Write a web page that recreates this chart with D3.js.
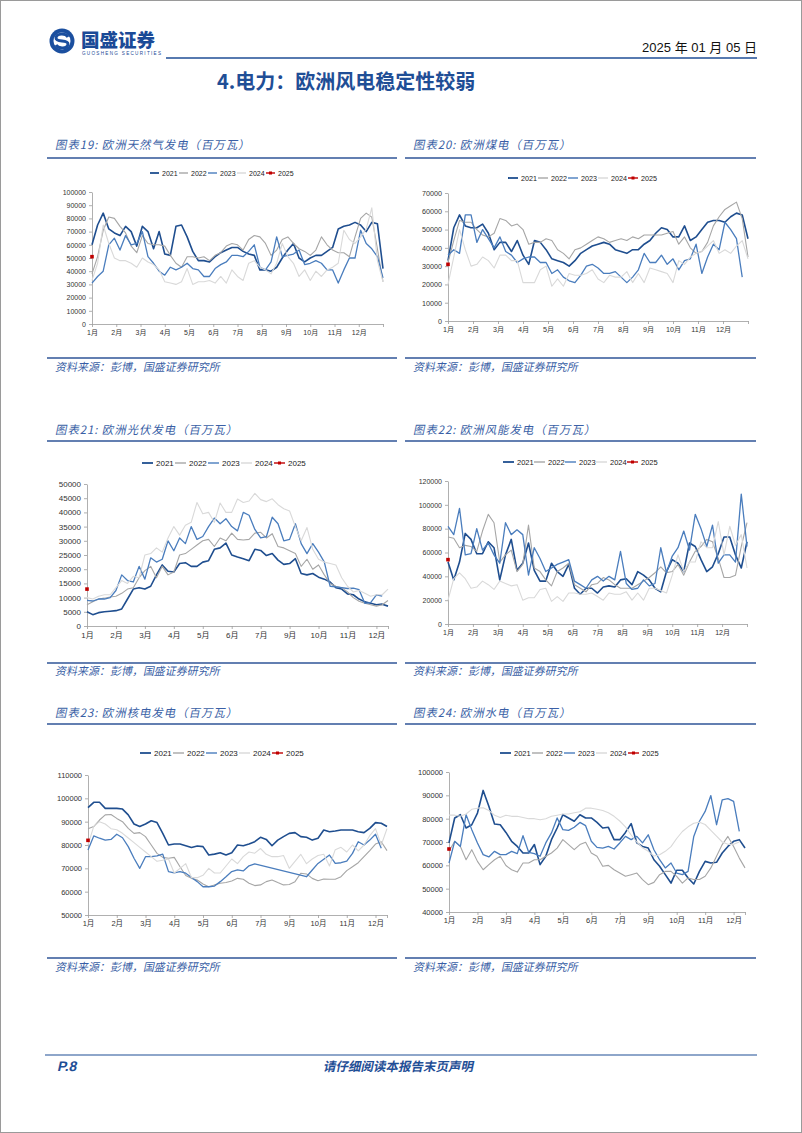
<!DOCTYPE html>
<html>
<head>
<meta charset="utf-8">
<script src="https://cdn.jsdelivr.net/npm/d3@7"></script>
<style>
body { margin: 0; background: #fff; }
svg { display: block; }
</style>
</head>
<body>
<div id="page"></div>
<script>
// all series in thousands (axis labels multiply back by 1000), weekly points w0..w52
var years = ['2021', '2022', '2023', '2024', '2025'];
var yearColor = ['#1f4e8f', '#a6a6a6', '#4a7dbd', '#d9d9d9', '#c00000'];
var yearWidth = [1.6, 1.1, 1.3, 1.1, 1];

var months12 = ['1月', '2月', '3月', '4月', '5月', '6月', '7月', '8月', '9月', '10月', '11月', '12月'];
var months11 = ['1月', '2月', '3月', '4月', '5月', '6月', '7月', '9月', '10月', '11月', '12月'];

// 图表19 天然气
var gas2021 = [60,75,84,72,69,67,74,70,59,74, 70,57,70,53,52,74,75,66,55,48, 48,47,51,54,56,58,58,55,53,52, 41,41,40,43,50,56,61,50,47,50, 52,52,55,58,72,74,75,77,75,70, 77,76,42];
var gas2022 = [38,51,71,81,80,74,69,59,54,67, 61,60,60,59,52,46,43,51,51,50, 51,48,52,54,59,61,60,56,64,67, 66,61,52,56,64,66,61,57,55,52, 56,66,60,56,54,54,51,66,80,84, 81,57,32];
var gas2023 = [31,36,40,60,65,56,67,60,61,70, 51,46,40,37,43,41,43,46,42,41, 36,36,42,45,47,52,52,51,55,60, 43,41,47,66,51,52,53,56,45,46, 48,46,41,41,31,41,50,50,71,61, 57,51,35];
var gas2024 = [33,46,75,61,50,48,48,46,43,50, 47,45,41,32,31,30,32,42,30,32, 32,33,31,36,31,41,36,33,46,48, 43,41,38,46,61,51,46,36,41,33, 40,36,41,43,46,71,64,61,66,72, 88,48,32];
var gas2025 = [51];

// 图表20 煤电
var coal2021 = [33,51,58,52,51,51,53,48,39,43, 43,38,44,36,31,44,43,39,34,33, 32,30,33,37,39,41,42,43,42,39, 38,37,39,39,42,44,48,51,50,46, 46,52,44,46,50,54,55,55,54,57, 59,58,45];
var coal2022 = [32,44,55,54,54,50,47,46,48,56, 55,52,53,50,42,43,43,45,44,39, 37,34,39,40,42,44,46,45,43,44, 45,44,46,45,47,47,47,47,48,49, 42,46,40,37,38,43,52,57,61,63, 65,56,35];
var coal2023 = [36,39,37,58,58,43,50,45,40,46, 38,36,32,34,35,35,32,32,26,28, 24,22,21,25,30,31,29,26,26,27, 24,21,24,28,37,32,32,36,31,34, 28,33,34,42,26,35,42,39,54,50, 45,24];
var coal2024 = [20,35,50,39,30,31,35,33,29,36, 36,33,33,21,21,21,28,30,19,23, 19,26,25,25,26,28,23,21,25,24, 24,27,21,26,21,29,28,27,26,21, 33,31,35,37,38,41,44,37,39,37, 41,44,34];
var coal2025 = [31];

// 图表21 光伏
var solar2021 = [5,4,4.7,5,5.2,5.4,6,9.5,13,13.5, 13,14,18,21.5,19.3,19,22,22.3,21,21, 22.5,23,27,27.5,29.2,25,24.3,23.7,23,27, 26.6,24.8,25.5,23.2,21.7,22,23.7,18.5,18,18.5, 17.2,16.5,15.5,13.5,13,11.3,11,9.5,8.5,8, 7.5,7.7,7];
var solar2022 = [7.5,8.5,9.5,9.8,10.2,10.5,11.5,13,13.5,17, 19.5,21,17,21,18,19,25,25.5,27,28.5, 30,30.5,28,31,30,32.7,30.5,30.3,30.5,32.7, 33,31,32.5,28,27.5,26.5,25.5,21,23.5,20, 21.5,18,15,14,13.5,12,10,8.7,8,7.5, 7,7.5,9];
var solar2023 = [9,8.8,9.5,9.5,10,12.5,18,16,15.5,21, 16.5,24,22.5,23.5,30,26.5,31,29,35,30.5, 31.5,35,38,36,37.8,35,33.5,40,39,34, 31,31.5,38.3,36,30,30.5,36,29,25.5,29, 26,22.5,14,13.8,13.5,13.2,13.3,12.8,8,8.2, 11,10.5];
var solar2024 = [10,9.5,10.5,11,11,13.5,16,15,17.5,17, 25,25.5,27.5,26,31,35,32,35.5,36.5,43.5, 39.5,40,36.5,43.3,40,40,44.7,43.5,44,46.7, 44.5,43.8,44.8,42.7,41.3,40.5,35,30,34.7,27, 23.5,22.5,22,21.5,17,14,12,12.5,11.5,10.5, 11,11,13];
var solar2025 = [13];

// 图表22 风能
var wind2021 = [52,37,52,76,71,59,59,69,64,37, 58,71,45,51,68,45,36,36,51,44, 40,50,30,25,30,30,26,31,32,31, 37,38,33,44,41,37,30,27,44,54, 51,44,68,65,54,44,48,59,73,73, 58,47,69];
var wind2022 = [73,72,64,66,65,61,78,92,85,52, 58,62,44,50,83,47,44,37,32,44, 47,51,33,30,27,33,34,39,37,33, 30,30,30,33,36,39,43,48,43,44, 50,41,52,61,65,71,69,55,39,39, 41,65,85];
var wind2023 = [82,75,97,58,59,80,62,68,58,51, 85,75,79,75,41,64,55,44,47,50, 52,54,36,33,30,37,40,36,40,37, 61,34,29,30,37,32,34,64,43,57, 64,78,62,92,80,65,83,51,58,58, 52,109,65];
var wind2024 = [20,38,43,38,30,31,36,33,29,36, 34,32,33,20,22,22,29,30,19,23, 19,26,26,25,25,26,23,20,26,25, 25,27,20,26,20,30,30,28,26,41, 58,44,52,52,69,64,64,86,58,82, 66,75,47];
var wind2025 = [54];

// 图表23 核电 (2023 has missing weeks, line joins across)
var nuc2021 = [96,98.3,98.3,95.7,95.7,95.7,95.4,92.9,89,87.9, 89,90.4,89.6,85,80,80.4,80.4,79.7,78.9,79.6, 79.3,75.7,76.1,76.7,75.7,76.7,80,79.7,80.4,81.4, 83.3,82.4,79.7,82.1,83.6,85,85.3,83.6,83.3,82.1, 82.9,86.4,85.7,86,86.4,86.4,86.4,85.7,85.3,87.1, 89.6,89.3,87.9];
var nuc2022 = [87,87.9,90.7,92.9,93.1,91.4,90,87.1,85,85.3, 83.6,80,76.4,74.7,74.3,74.7,70.7,66.9,65.7,65, 63.3,62.1,62.9,63.6,63.9,64.6,65.7,65.3,63.6,62.6, 62.9,64.3,65,63.9,62.9,63.1,64.3,67.9,67.6,65.7, 64.7,65.4,65.3,65.3,66.4,69,70.7,72.4,75,77.6, 80.4,81.4,77.6];
var nuc2023 = [77.9,83.9,82.9,82.1,82.4,84.6,83.1,79.3,74.3,70, 75,75,75.3,76.1,68.6,68.1,68.6,67.9,66.1,64.3, 62.1,62.1,62.4,64.3,66.4,68.6,69.3,68.9,71.1,71.9, null,null,null,null,null,null,null,null,66.4,69.3, 72.1,73.9,75.7,72.1,72.4,73.1,76.4,81.4,80,82.1, 84.6,78.6];
var nuc2024 = [80,88,90,89,87,86.5,85,83,81,79, 77,75,73,73.5,74,68,70,72,66,66, 67,70,68,68,71,74,72,75,77,76.5, 78.5,76,75,75,75.5,70,73,76,72,74, 75.5,76,71,78,79,77,80,77.5,80,84, 87,80,87];
var nuc2025 = [82];

// 图表24 水电
var hyd2021 = [69.6,80.3,81.7,76,77.4,82.4,92.1,85.3,77.7,77.4, 74.1,70.3,68.1,65.3,65.3,68.9,60.3,63.9,71,76, 81.7,80.3,78.9,81.7,80.3,80.3,78.4,76,76.3,71, 71,74.1,77.9,69.6,68.1,67.4,62.4,59.6,56,52.4, 57.9,57.9,54.6,52,57.4,61.7,61,61.3,65.3,68.1, 70.3,71,67.4];
var hyd2022 = [66,70.3,68.1,62.4,66.7,61.7,58.1,60.3,62.4,63.9, 59.9,58.1,57.1,61,61,62.4,62.4,63.9,65.3,67.4, 71,68.9,66.7,68.9,69.9,65.3,63.9,59.6,60,58.1, 56.7,55.3,56,56.7,53.9,51.7,52.7,56,57.4,57.4, 55.3,52.4,54.6,53.9,53.9,55.3,58.9,63.9,68.9,72.4, 68.1,63.1,58.9];
var hyd2023 = [61,70.3,68.1,81.7,75.3,69.6,64.6,63.6,66,64.6, 64.6,66,65,72.7,65.6,65,63.9,69.6,73.9,80.3, 75.3,75,76.3,78.4,77,70.3,67.7,67.4,68.1,67, 69.6,72.4,71,72.4,69.6,73.1,66.7,62.4,58.9,61, 56.7,56,57.4,72.4,78.9,83.1,89.9,77.4,88.1,88.6, 87.4,74.6];
var hyd2024 = [81.5,81.5,81,82,84,84.5,84.7,83.5,81.5,80.5, 81.5,81,81,80.5,80,80,79.5,80,81,81.5, 82,82,82.5,83,84.5,84.5,84,83.5,82.5,81, 79,76.5,73,70,67.5,66,64,64.5,66,68, 71.5,74.5,76.5,78,78.5,77.5,75,72.5,70,69, 69,70];
var hyd2025 = [67];

var blue = '#1f4e96';
var capBlue = '#3a5fa6';
var cjk = '"Noto Sans CJK SC", sans-serif';
var num = '"Liberation Sans", "Noto Sans CJK SC", sans-serif';

var svg = d3.select('#page').append('svg')
    .attr('width', 802)
    .attr('height', 1133);

svg.append('rect')
    .attr('x', 0.5).attr('y', 0.5)
    .attr('width', 801).attr('height', 1132)
    .attr('fill', '#fff')
    .attr('stroke', '#9a9a9a');

// CJK fonts have no italic face, so slant by hand
function slanted(parent, x, y) {
    return parent.append('text')
        .attr('transform', 'translate(' + x + ',' + y + ') skewX(-12)');
}

// header: logo, name, date, rule
var logo = svg.append('g').attr('transform', 'translate(62, 41)');
logo.append('circle').attr('r', 12.5).attr('fill', '#1b4f9f');
logo.append('circle').attr('r', 8.5).attr('fill', '#fff');
logo.append('path')
    .attr('d', 'M6,-4 C4,-8 -6,-8 -6,-3 C-6,2 6,-2 6,3 C6,8 -4,8 -6,4')
    .attr('fill', 'none')
    .attr('stroke', '#1b4f9f')
    .attr('stroke-width', 3);

svg.append('text')
    .attr('x', 81).attr('y', 47)
    .attr('font-family', cjk)
    .attr('font-weight', 900)
    .attr('font-size', 18.5)
    .attr('fill', '#1b4a97')
    .text('国盛证券');
svg.append('text')
    .attr('x', 82).attr('y', 55)
    .attr('font-family', num)
    .attr('font-size', 4.6)
    .attr('letter-spacing', 1.3)
    .attr('fill', '#1b4a97')
    .text('GUOSHENG SECURITIES');

svg.append('text')
    .attr('x', 757).attr('y', 52)
    .attr('text-anchor', 'end')
    .attr('font-family', num)
    .attr('font-size', 13)
    .attr('fill', '#111')
    .text('2025 年 01 月 05 日');

svg.append('line')
    .attr('x1', 166).attr('x2', 757)
    .attr('y1', 58).attr('y2', 58)
    .attr('stroke', blue)
    .attr('stroke-width', 1.5);

svg.append('text')
    .attr('x', 217).attr('y', 89)
    .attr('font-family', cjk)
    .attr('font-weight', 700)
    .attr('font-size', 20)
    .attr('fill', blue)
    .text('4.电力：欧洲风电稳定性较弱');

// footer
svg.append('line')
    .attr('x1', 45).attr('x2', 757)
    .attr('y1', 1055).attr('y2', 1055)
    .attr('stroke', blue)
    .attr('stroke-width', 1.2);
slanted(svg, 57, 1071)
    .attr('font-family', num)
    .attr('font-weight', 700)
    .attr('font-size', 14)
    .attr('fill', blue)
    .text('P.8');
slanted(svg, 398, 1071)
    .attr('text-anchor', 'middle')
    .attr('font-family', cjk)
    .attr('font-weight', 700)
    .attr('font-size', 12.5)
    .attr('fill', blue)
    .text('请仔细阅读本报告末页声明');

var tick12 = d3.range(13).map(function(i) { return i * 52 / 12; });
var tick11 = d3.range(0, 51, 5).concat([52]);

var charts = [
    {title: '图表19: 欧洲天然气发电（百万瓦）', series: [gas2021, gas2022, gas2023, gas2024, gas2025],
     left: 47, right: 397, titleY: 149, lineY: 158, srcLineY: 358, srcY: 371,
     x0: 92, x1: 383, yB: 324, yT: 192, yDom: [0, 100], yStep: 10, ticks: tick12, labels: months12,
     legX: 150, legY: 173, legPitch: 29, legLine: 9, legFont: 7, tickFont: 7},
    {title: '图表20: 欧洲煤电（百万瓦）', series: [coal2021, coal2022, coal2023, coal2024, coal2025],
     left: 405, right: 756, titleY: 149, lineY: 158, srcLineY: 358, srcY: 371,
     x0: 448, x1: 748, yB: 321, yT: 193, yDom: [0, 70], yStep: 10, ticks: tick12, labels: months12,
     legX: 508, legY: 178, legPitch: 30, legLine: 10, legFont: 7.2, tickFont: 7.2},
    {title: '图表21: 欧洲光伏发电（百万瓦）', series: [solar2021, solar2022, solar2023, solar2024, solar2025],
     left: 47, right: 397, titleY: 434, lineY: 441, srcLineY: 663, srcY: 675,
     x0: 87, x1: 388, yB: 626, yT: 484, yDom: [0, 50], yStep: 5, ticks: tick11, labels: months11,
     legX: 142, legY: 463, legPitch: 33, legLine: 11, legFont: 8, tickFont: 8},
    {title: '图表22: 欧洲风能发电（百万瓦）', series: [wind2021, wind2022, wind2023, wind2024, wind2025],
     left: 405, right: 756, titleY: 434, lineY: 441, srcLineY: 663, srcY: 675,
     x0: 448, x1: 747, yB: 624, yT: 481, yDom: [0, 120], yStep: 20, ticks: tick12, labels: months12,
     legX: 503, legY: 462, legPitch: 31, legLine: 11, legFont: 7.5, tickFont: 7},
    {title: '图表23: 欧洲核电发电（百万瓦）', series: [nuc2021, nuc2022, nuc2023, nuc2024, nuc2025],
     left: 47, right: 397, titleY: 717, lineY: 724, srcLineY: 958, srcY: 971,
     x0: 88, x1: 387, yB: 915, yT: 775, yDom: [50, 110], yStep: 10, ticks: tick11, labels: months11,
     legX: 140, legY: 753, legPitch: 33, legLine: 11, legFont: 8, tickFont: 7.5},
    {title: '图表24: 欧洲水电（百万瓦）', series: [hyd2021, hyd2022, hyd2023, hyd2024, hyd2025],
     left: 405, right: 756, titleY: 717, lineY: 724, srcLineY: 958, srcY: 971,
     x0: 449, x1: 745, yB: 912, yT: 772, yDom: [40, 100], yStep: 10, ticks: tick11, labels: months11,
     legX: 500, legY: 753, legPitch: 32, legLine: 11, legFont: 7.5, tickFont: 7.5}
];

function drawChart(c) {
    var g = svg.append('g');

    slanted(g, c.left + 8, c.titleY)
        .attr('font-family', cjk)
        .attr('font-size', 11.5)
        .attr('letter-spacing', 0.9)
        .attr('fill', capBlue)
        .text(c.title);
    g.append('line')
        .attr('x1', c.left).attr('x2', c.right)
        .attr('y1', c.lineY).attr('y2', c.lineY)
        .attr('stroke', '#2f5597')
        .attr('stroke-width', 1.5);
    g.append('line')
        .attr('x1', c.left).attr('x2', c.right)
        .attr('y1', c.srcLineY).attr('y2', c.srcLineY)
        .attr('stroke', '#2f5597')
        .attr('stroke-width', 1.5);
    slanted(g, c.left + 8, c.srcY)
        .attr('font-family', cjk)
        .attr('font-size', 11)
        .attr('fill', capBlue)
        .text('资料来源：彭博，国盛证券研究所');

    var x = d3.scaleLinear().domain([0, 52]).range([c.x0, c.x1]);
    var y = d3.scaleLinear().domain(c.yDom).range([c.yB, c.yT]);

    var yAxis = d3.axisLeft(y)
        .tickValues(d3.range(c.yDom[0], c.yDom[1] + 0.001, c.yStep))
        .tickSize(3)
        .tickSizeOuter(0)
        .tickPadding(3)
        .tickFormat(function(d) { return String(d * 1000); });
    var ya = g.append('g')
        .attr('transform', 'translate(' + c.x0 + ', 0)')
        .call(yAxis);

    var xAxis = d3.axisBottom(x)
        .tickValues(c.ticks)
        .tickSize(3)
        .tickSizeOuter(0)
        .tickPadding(3)
        .tickFormat(function(d, i) { return c.labels[i] || ''; });
    var xa = g.append('g')
        .attr('transform', 'translate(0, ' + c.yB + ')')
        .call(xAxis);

    [ya, xa].forEach(function(a) {
        a.selectAll('path, line').attr('stroke', '#9c9c9c').attr('stroke-width', 0.8);
        a.selectAll('text')
            .attr('font-family', num)
            .attr('font-size', c.tickFont)
            .attr('fill', '#333');
    });

    var line = d3.line()
        .x(function(d) { return x(d.w); })
        .y(function(d) { return y(d.v); });

    c.series.forEach(function(s, k) {
        var pts = s.map(function(v, i) { return {w: i, v: v}; })
            .filter(function(d) { return d.v != null; });
        if (pts.length > 1) {
            g.append('path')
                .datum(pts)
                .attr('d', line)
                .attr('fill', 'none')
                .attr('stroke', yearColor[k])
                .attr('stroke-width', yearWidth[k])
                .attr('stroke-linejoin', 'round');
        } else {
            g.append('rect')
                .attr('x', x(pts[0].w) - 1.8)
                .attr('y', y(pts[0].v) - 1.8)
                .attr('width', 3.6)
                .attr('height', 3.6)
                .attr('fill', yearColor[k]);
        }
    });

    // legend
    years.forEach(function(yr, k) {
        var lx = c.legX + k * c.legPitch;
        g.append('line')
            .attr('x1', lx).attr('x2', lx + c.legLine)
            .attr('y1', c.legY).attr('y2', c.legY)
            .attr('stroke', yearColor[k])
            .attr('stroke-width', k == 0 ? 1.8 : 1.4);
        if (k == 4) {
            g.append('rect')
                .attr('x', lx + c.legLine / 2 - 1.5).attr('y', c.legY - 1.5)
                .attr('width', 3).attr('height', 3)
                .attr('fill', yearColor[k]);
        }
        g.append('text')
            .attr('x', lx + c.legLine + 3)
            .attr('y', c.legY + c.legFont * 0.36)
            .attr('font-family', num)
            .attr('font-size', c.legFont)
            .attr('fill', '#222')
            .text(yr);
    });
}

charts.forEach(drawChart);
</script>
</body>
</html>
